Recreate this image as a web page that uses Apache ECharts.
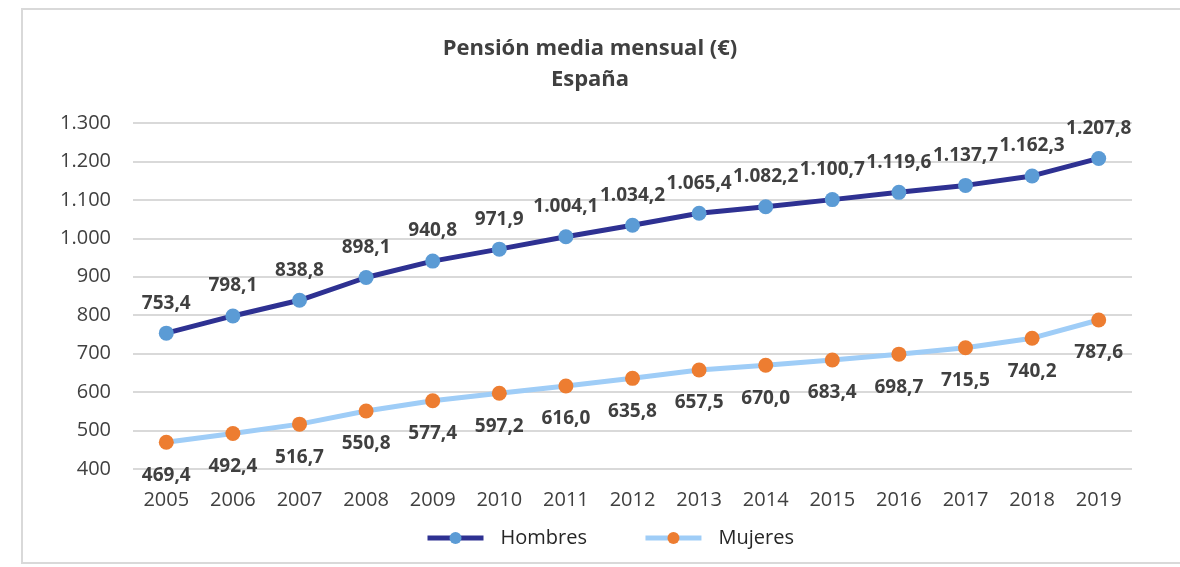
<!DOCTYPE html>
<html>
<head>
<meta charset="utf-8">
<script src="https://cdn.jsdelivr.net/npm/echarts@6/dist/echarts.min.js"></script>
<style>
  html, body { margin: 0; padding: 0; background: #fff; }
  #frame { position: absolute; left: 21px; top: 8px; width: 1170px; height: 556px; border: 2px solid #d9d9d9; box-sizing: border-box; }
  #chart { position: absolute; left: 0; top: 0; width: 1180px; height: 567px; }
</style>
</head>
<body>
<div id="frame"></div>
<div id="chart"></div>
<script>
// datos
const years = ['2005', '2006', '2007', '2008', '2009', '2010', '2011', '2012', '2013', '2014', '2015', '2016', '2017', '2018', '2019'];
const hombres = [753.4, 798.1, 838.8, 898.1, 940.8, 971.9, 1004.1, 1034.2, 1065.4, 1082.2, 1100.7, 1119.6, 1137.7, 1162.3, 1207.8];
const mujeres = [469.4, 492.4, 516.7, 550.8, 577.4, 597.2, 616.0, 635.8, 657.5, 670.0, 683.4, 698.7, 715.5, 740.2, 787.6];

const FONT = 'Open Sans';

// formato español: 1.207,8
function fmtNum(v, dec) {
  const parts = v.toFixed(dec).split('.');
  parts[0] = parts[0].replace(/\B(?=(\d{3})+(?!\d))/g, '.');
  return parts.length > 1 ? parts[0] + ',' + parts[1] : parts[0];
}

const chart = echarts.init(document.getElementById('chart'));

const option = {
  animation: false,
  title: {
    text: 'Pensión media mensual (€)\nEspaña',
    left: 'center',
    top: 28,
    textStyle: { fontFamily: FONT, fontSize: 22, fontWeight: 'bold', color: '#404040', lineHeight: 31 }
  },
  grid: { left: 133, right: 48, top: 123, bottom: 98, containLabel: false },
  legend: {
    bottom: 14,
    left: 420,
    itemWidth: 56,
    itemHeight: 15,
    itemGap: 56,
    lineStyle: { width: 5 },
    textStyle: { fontFamily: FONT, fontSize: 20, color: '#262626', padding: [0, 0, 0, 12] },
    data: ['Hombres', 'Mujeres']
  },
  xAxis: {
    type: 'category',
    data: years,
    boundaryGap: true,
    axisLine: { show: false },
    axisTick: { show: false },
    axisLabel: { fontFamily: FONT, fontSize: 20, color: '#404040', margin: 21 }
  },
  yAxis: {
    type: 'value',
    min: 400,
    max: 1300,
    interval: 100,
    axisLine: { show: false },
    axisTick: { show: false },
    splitLine: { lineStyle: { color: '#d9d9d9', width: 2 } },
    axisLabel: { fontFamily: FONT, fontSize: 20, color: '#404040', margin: 22, formatter: v => fmtNum(v, 0) }
  },
  series: [
    {
      name: 'Hombres',
      type: 'line',
      data: hombres,
      symbol: 'circle',
      symbolSize: 15,
      lineStyle: { color: '#2e3192', width: 5 },
      itemStyle: { color: '#5b9bd5' },
      label: {
        show: true,
        position: 'top',
        distance: 13,
        fontFamily: FONT,
        fontSize: 19,
        fontWeight: 'bold',
        color: '#404040',
        formatter: p => fmtNum(p.value, 1)
      }
    },
    {
      name: 'Mujeres',
      type: 'line',
      data: mujeres,
      symbol: 'circle',
      symbolSize: 15,
      lineStyle: { color: '#9fcdf7', width: 5 },
      itemStyle: { color: '#ed7d31' },
      label: {
        show: true,
        position: 'bottom',
        distance: 16,
        fontFamily: FONT,
        fontSize: 19,
        fontWeight: 'bold',
        color: '#404040',
        formatter: p => fmtNum(p.value, 1)
      }
    }
  ]
};

chart.setOption(option);
</script>
</body>
</html>
